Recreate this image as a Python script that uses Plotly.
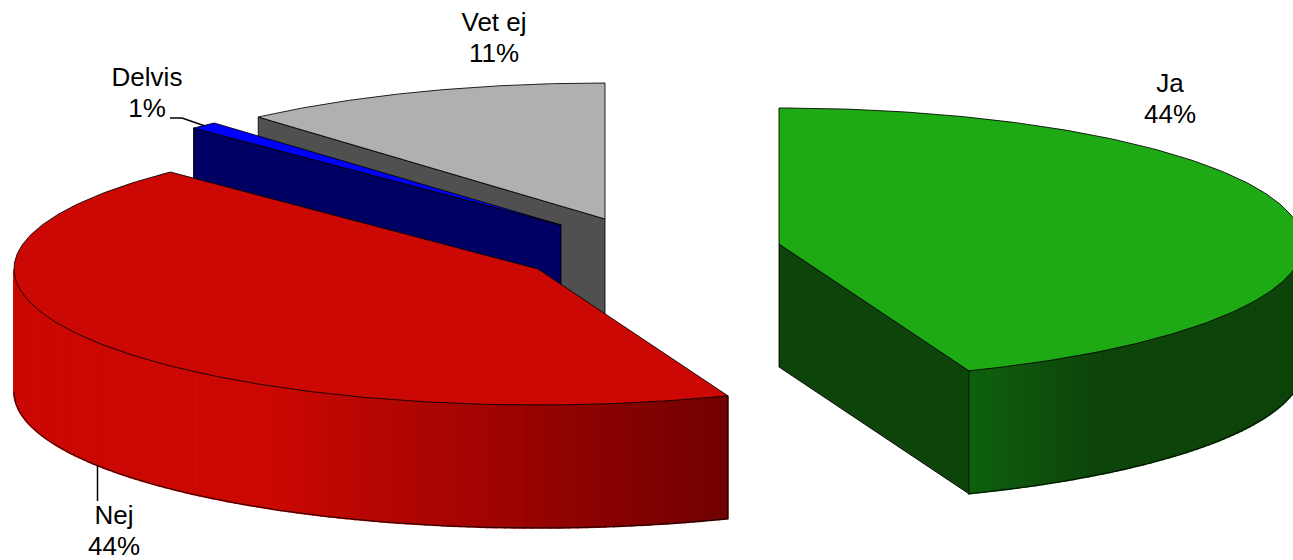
import numpy as np
import plotly.graph_objects as go

categories = ["Ja", "Nej", "Delvis", "Vet ej"]
values = [44.1, 43.53, 0.86, 11.51]
pct_labels = ["44%", "44%", "1%", "11%"]
top_colors = ["#1eaa14", "#cb0803", "#0000ff", "#b0b0b0"]
side_colors = ["#0d440a", "#7a0000", "#000064", "#505050"]

W, H = 1293, 560
A, B, DEPTH = 524, 136, 123
CENTERS = {"Ja": (779, 244), "Nej": (538, 269), "Delvis": (561, 225), "Vet ej": (605, 219)}
LABELS = {"Ja": (1170, 85.5), "Nej": (114, 517), "Delvis": (147, 79), "Vet ej": (494, 24)}
LINE_GAP = 31
FONT = dict(family="Liberation Sans, Arial, sans-serif", size=26, color="black")
EDGE = dict(color="rgba(0,0,0,0.85)", width=1)

total = sum(values)
bounds = np.cumsum([0] + values) / total * 2 * np.pi
slices = {c: (bounds[i], bounds[i + 1], top_colors[i], side_colors[i]) for i, c in enumerate(categories)}


def pt(center, t, dz=0.0):
    return center[0] + A * np.sin(t), center[1] - B * np.cos(t) + dz


def lerp(c0, c1, f):
    f = min(max(f, 0), 1)
    return "rgb(%d,%d,%d)" % tuple(round(a + (b - a) * f) for a, b in zip(c0, c1))


def green_shade(x):
    return lerp((15, 96, 14), (13, 68, 10), (x - 969) / 130)


def red_shade(x):
    return lerp((203, 8, 3), (112, 0, 0), (x - 270) / 458)


fig = go.Figure()


def poly(xs, ys, fill, line=None):
    fig.add_trace(go.Scatter(
        x=list(xs) + [xs[0]], y=list(ys) + [ys[0]], mode="lines", fill="toself", fillcolor=fill,
        line=line or dict(color=fill, width=1.6), hoverinfo="skip", showlegend=False))


def radial_face(name, t):
    c = CENTERS[name]
    px, py = pt(c, t)
    poly([c[0], px, px, c[0]], [c[1], py, py + DEPTH, c[1] + DEPTH], slices[name][3], EDGE)


def outer_face(name, t_near, t_far, shade):
    """Visible rim from the sliced corner t_near round to the silhouette t_far."""
    c = CENTERS[name]
    n = int(abs(np.degrees(t_far - t_near))) + 1
    ts = np.linspace(t_near, t_far, n + 1)
    for a, b in zip(ts[:-1], ts[1:]):
        xa, ya = pt(c, a)
        xb, yb = pt(c, b)
        poly([xa, xb, xb, xa], [ya, yb, yb + DEPTH, ya + DEPTH], shade((xa + xb) / 2))
    fine = np.linspace(t_near, t_far, 240)
    xs, ys = pt(c, fine, DEPTH)
    x0, y0 = pt(c, t_near)
    for lx, ly in ((xs, ys), ([x0, x0], [y0, y0 + DEPTH])):
        fig.add_trace(go.Scatter(x=list(lx), y=list(ly), mode="lines", line=EDGE,
                                 hoverinfo="skip", showlegend=False))


def top_face(name):
    t0, t1, col, _ = slices[name]
    c = CENTERS[name]
    ts = np.linspace(t0, t1, 200)
    xs, ys = pt(c, ts)
    poly([c[0]] + list(xs), [c[1]] + list(ys), col, EDGE)


# back to front
radial_face("Vet ej", slices["Vet ej"][0])
top_face("Vet ej")
radial_face("Delvis", slices["Delvis"][0])
top_face("Delvis")
outer_face("Nej", slices["Nej"][0], 1.5 * np.pi, red_shade)
top_face("Nej")
radial_face("Ja", slices["Ja"][1])
outer_face("Ja", slices["Ja"][1], 0.5 * np.pi, green_shade)
top_face("Ja")

# leader lines
for lx, ly in (([170, 182, 205], [118, 118, 126]), ([97.5, 97.5], [465, 501])):
    fig.add_trace(go.Scatter(x=lx, y=ly, mode="lines", line=dict(color="black", width=1.5),
                             hoverinfo="skip", showlegend=False))

# labels
for c, p in zip(categories, pct_labels):
    lx, ly = LABELS[c]
    fig.add_trace(go.Scatter(x=[lx, lx], y=[ly, ly + LINE_GAP], mode="text",
                             text=[c, p], textposition="middle center",
                             textfont=FONT, hoverinfo="skip", showlegend=False, cliponaxis=False))

fig.update_layout(
    width=W, height=H, margin=dict(l=0, r=0, t=0, b=0),
    paper_bgcolor="white", plot_bgcolor="white",
    xaxis=dict(range=[0, W], visible=False, fixedrange=True),
    yaxis=dict(range=[H, 0], visible=False, fixedrange=True),
)
fig.write_html("out.html", config=dict(displayModeBar=False),
               post_script="document.body.style.margin='0';document.body.style.overflow='hidden';")
